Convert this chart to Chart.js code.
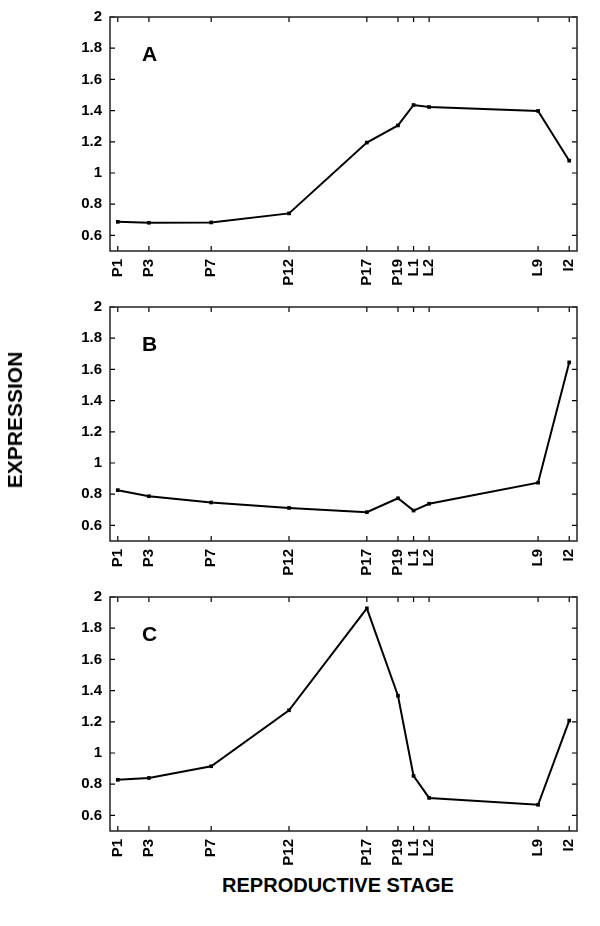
<!DOCTYPE html>
<html>
<head>
<meta charset="utf-8">
<script src="https://cdn.jsdelivr.net/npm/chart.js@4/dist/chart.umd.min.js"></script>
<style>
  html, body { margin: 0; padding: 0; background: #fff; }
  body { width: 600px; height: 926px; position: relative; overflow: hidden;
         font-family: "Liberation Sans", Arial, Helvetica, sans-serif; }
  .wrap { position: absolute; left: 0; width: 600px; height: 290px; }
  .lbl { position: absolute; font-weight: bold; color: #000; white-space: nowrap; }
  .panel { font-size: 21px; }
  #ytitle { font-size: 21px; left: 15px; top: 420px; transform: translate(-50%, -50%) rotate(-90deg); }
  #xtitle { font-size: 20px; left: 338px; top: 885px; transform: translate(-50%, -50%); }
</style>
</head>
<body>
<div class="wrap" style="top:0px"><canvas id="cA" width="600" height="290"></canvas></div>
<div class="wrap" style="top:290px"><canvas id="cB" width="600" height="290"></canvas></div>
<div class="wrap" style="top:580px"><canvas id="cC" width="600" height="290"></canvas></div>
<div class="lbl panel" style="left:142px; top:42px;">A</div>
<div class="lbl panel" style="left:142px; top:332px;">B</div>
<div class="lbl panel" style="left:142px; top:622px;">C</div>
<div class="lbl" id="ytitle">EXPRESSION</div>
<div class="lbl" id="xtitle">REPRODUCTIVE STAGE</div>
<script>
// Stage labels and their positions along the developmental axis
const stageLabels = ["P1", "P3", "P7", "P12", "P17", "P19", "L1", "L2", "L9", "I2"];
const stagePositions = [1, 3, 7, 12, 17, 19, 20, 21, 28, 30];
const yTickValues = [0.6, 0.8, 1, 1.2, 1.4, 1.6, 1.8, 2];

// Expression values per panel
const seriesA = [0.687, 0.681, 0.683, 0.741, 1.195, 1.305, 1.436, 1.423, 1.398, 1.079];
const seriesB = [0.826, 0.787, 0.747, 0.712, 0.685, 0.774, 0.695, 0.739, 0.874, 1.645];
const seriesC = [0.828, 0.840, 0.915, 1.274, 1.927, 1.367, 0.853, 0.712, 0.668, 1.208];

const FONT = "'Liberation Sans', Arial, Helvetica, sans-serif";

const innerTicks = {
  id: 'innerTicks',
  afterDraw(chart) {
    const ctx = chart.ctx;
    const a = chart.chartArea;
    const xs = chart.scales.x, ys = chart.scales.y;
    const L = 5;
    ctx.save();
    ctx.strokeStyle = '#000';
    ctx.lineWidth = 1.2;
    ctx.beginPath();
    stagePositions.forEach(v => {
      const px = xs.getPixelForValue(v);
      ctx.moveTo(px, a.bottom); ctx.lineTo(px, a.bottom - L);
      ctx.moveTo(px, a.top); ctx.lineTo(px, a.top + L);
    });
    yTickValues.forEach(v => {
      const py = ys.getPixelForValue(v);
      ctx.moveTo(a.left, py); ctx.lineTo(a.left + L, py);
      ctx.moveTo(a.right, py); ctx.lineTo(a.right - L, py);
    });
    ctx.stroke();
    ctx.lineWidth = 1.5;
    ctx.strokeStyle = '#222';
    ctx.strokeRect(a.left, a.top, a.right - a.left, a.bottom - a.top);
    ctx.restore();
  }
};

function makeChart(id, data) {
  const points = stagePositions.map((x, i) => ({ x: x, y: data[i] }));
  new Chart(document.getElementById(id), {
    type: 'line',
    data: {
      datasets: [{
        data: points,
        borderColor: '#000',
        backgroundColor: '#000',
        borderWidth: 2,
        pointStyle: 'rect',
        pointRadius: 2.6,
        pointBorderWidth: 0,
        tension: 0,
        fill: false
      }]
    },
    options: {
      responsive: false,
      animation: false,
      events: [],
      layout: { padding: { top: 10, right: 23, left: 0, bottom: 0 } },
      plugins: { legend: { display: false }, tooltip: { enabled: false } },
      scales: {
        x: {
          type: 'linear',
          min: 0.5, max: 30.5,
          grid: { display: false, drawTicks: false },
          border: { display: false },
          afterBuildTicks(scale) { scale.ticks = stagePositions.map(v => ({ value: v })); },
          afterFit(scale) { scale.height = 39; },
          ticks: {
            autoSkip: false,
            minRotation: 90, maxRotation: 90,
            padding: 8,
            color: '#000',
            font: { family: FONT, size: 15, weight: 'bold' },
            callback(v) { const i = stagePositions.indexOf(v); return i >= 0 ? stageLabels[i] : ''; }
          }
        },
        y: {
          min: 0.5, max: 2,
          grid: { display: false, drawTicks: false },
          border: { display: false },
          afterBuildTicks(scale) { scale.ticks = yTickValues.map(v => ({ value: v })); },
          afterFit(scale) { scale.width = 110; },
          ticks: {
            padding: 8,
            color: '#000',
            font: { family: FONT, size: 15, weight: 'bold' },
            callback(v) { return String(Number(v.toFixed(1))); }
          }
        }
      }
    },
    plugins: [innerTicks]
  });
}

makeChart('cA', seriesA);
makeChart('cB', seriesB);
makeChart('cC', seriesC);
</script>
</body>
</html>
